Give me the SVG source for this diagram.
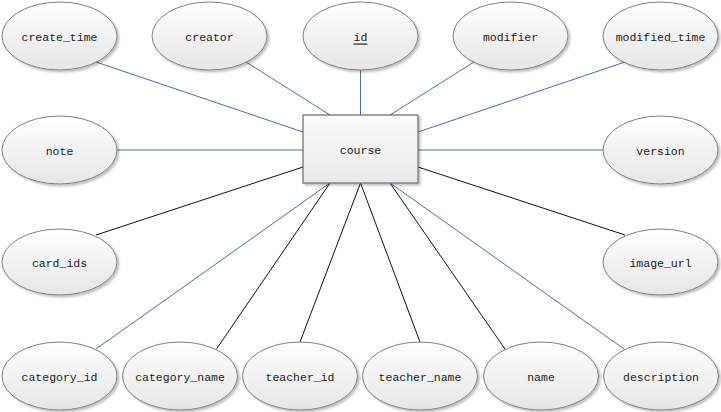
<svg xmlns="http://www.w3.org/2000/svg" width="721" height="412" viewBox="0 0 721 412">
  <defs>
    <linearGradient id="attrFill" x1="0" y1="0" x2="0" y2="1">
      <stop offset="0" stop-color="#ffffff"/>
      <stop offset="1" stop-color="#e6e6e6"/>
    </linearGradient>
    <linearGradient id="entityFill" x1="0" y1="0" x2="0" y2="1">
      <stop offset="0" stop-color="#fbfbfb"/>
      <stop offset="1" stop-color="#e9e9e9"/>
    </linearGradient>
    <filter id="shadow" x="-10%" y="-10%" width="125%" height="130%">
      <feGaussianBlur in="SourceAlpha" stdDeviation="1"/>
      <feOffset dx="1.5" dy="1.5" result="b"/>
      <feComponentTransfer><feFuncA type="linear" slope="0.25"/></feComponentTransfer>
      <feMerge><feMergeNode/><feMergeNode in="SourceGraphic"/></feMerge>
    </filter>
  </defs>
  <style>
    .attr ellipse { fill: url(#attrFill); stroke: #7f7f7f; stroke-width: 1; filter: url(#shadow); }
    .entity rect { fill: url(#entityFill); stroke: #6b6b6b; stroke-width: 1.2; filter: url(#shadow); }
    text { font-family: "Liberation Mono", "DejaVu Sans Mono", monospace; font-size: 11.5px; fill: #1a1a1a; text-anchor: middle; dominant-baseline: central; }
    .blue { stroke: #4a6ea3; stroke-width: 1; fill: none; }
    .black { stroke: #111111; stroke-width: 1; fill: none; }
  </style>

  <!-- connectors between the entity box and the attribute ellipses -->
  <g id="connectors">
    <line class="blue" x1="303" y1="132" x2="96" y2="62"/>
    <line class="blue" x1="330" y1="115" x2="246" y2="62"/>
    <line class="blue" x1="360.5" y1="115" x2="360.5" y2="70"/>
    <line class="blue" x1="390" y1="115" x2="474" y2="62"/>
    <line class="blue" x1="418" y1="132" x2="625" y2="62"/>
    <line class="blue" x1="303" y1="150" x2="117" y2="150"/>
    <line class="blue" x1="418" y1="150" x2="603" y2="150"/>
    <line class="black" x1="303" y1="167" x2="96" y2="235"/>
    <line class="black" x1="418" y1="167" x2="625" y2="235"/>
    <line class="blue" x1="330" y1="183" x2="96" y2="349"/>
    <line class="black" x1="330" y1="183" x2="216.5" y2="349"/>
    <line class="black" x1="360.5" y1="183" x2="300" y2="342"/>
    <line class="black" x1="360.5" y1="183" x2="420" y2="342"/>
    <line class="black" x1="390" y1="183" x2="505" y2="349"/>
    <line class="blue" x1="390" y1="183" x2="624" y2="349"/>
  </g>

  <!-- entity -->
  <g id="course" class="entity">
    <rect x="303" y="115" width="115" height="68"/>
    <text x="360.5" y="150">course</text>
  </g>

  <!-- attributes: top row -->
  <g id="create_time" class="attr">
    <ellipse cx="59.5" cy="36" rx="57.5" ry="34"/>
    <text x="59.5" y="37">create_time</text>
  </g>
  <g id="creator" class="attr">
    <ellipse cx="209.5" cy="36" rx="57.5" ry="34"/>
    <text x="209.5" y="37">creator</text>
  </g>
  <g id="id" class="attr">
    <ellipse cx="360.5" cy="36" rx="57.5" ry="34"/>
    <text x="360.5" y="37" text-decoration="underline">id</text>
  </g>
  <g id="modifier" class="attr">
    <ellipse cx="510.5" cy="36" rx="57.5" ry="34"/>
    <text x="510.5" y="37">modifier</text>
  </g>
  <g id="modified_time" class="attr">
    <ellipse cx="660.5" cy="36" rx="57.5" ry="34"/>
    <text x="660.5" y="37">modified_time</text>
  </g>

  <!-- attributes: sides -->
  <g id="note" class="attr">
    <ellipse cx="59.5" cy="150" rx="57.5" ry="34"/>
    <text x="59.5" y="151">note</text>
  </g>
  <g id="version" class="attr">
    <ellipse cx="660.5" cy="150" rx="57.5" ry="34"/>
    <text x="660.5" y="151">version</text>
  </g>
  <g id="card_ids" class="attr">
    <ellipse cx="59.5" cy="262" rx="57.5" ry="33"/>
    <text x="59.5" y="263">card_ids</text>
  </g>
  <g id="image_url" class="attr">
    <ellipse cx="660.5" cy="262" rx="57.5" ry="33"/>
    <text x="660.5" y="263">image_url</text>
  </g>

  <!-- attributes: bottom row -->
  <g id="category_id" class="attr">
    <ellipse cx="59.5" cy="376" rx="57.5" ry="34"/>
    <text x="59.5" y="377">category_id</text>
  </g>
  <g id="category_name" class="attr">
    <ellipse cx="180" cy="376" rx="57.5" ry="34"/>
    <text x="180" y="377">category_name</text>
  </g>
  <g id="teacher_id" class="attr">
    <ellipse cx="300" cy="376" rx="57.5" ry="34"/>
    <text x="300" y="377">teacher_id</text>
  </g>
  <g id="teacher_name" class="attr">
    <ellipse cx="420" cy="376" rx="57.5" ry="34"/>
    <text x="420" y="377">teacher_name</text>
  </g>
  <g id="name" class="attr">
    <ellipse cx="541" cy="376" rx="57.5" ry="34"/>
    <text x="541" y="377">name</text>
  </g>
  <g id="description" class="attr">
    <ellipse cx="661" cy="376" rx="57.5" ry="34"/>
    <text x="661" y="377">description</text>
  </g>
</svg>
